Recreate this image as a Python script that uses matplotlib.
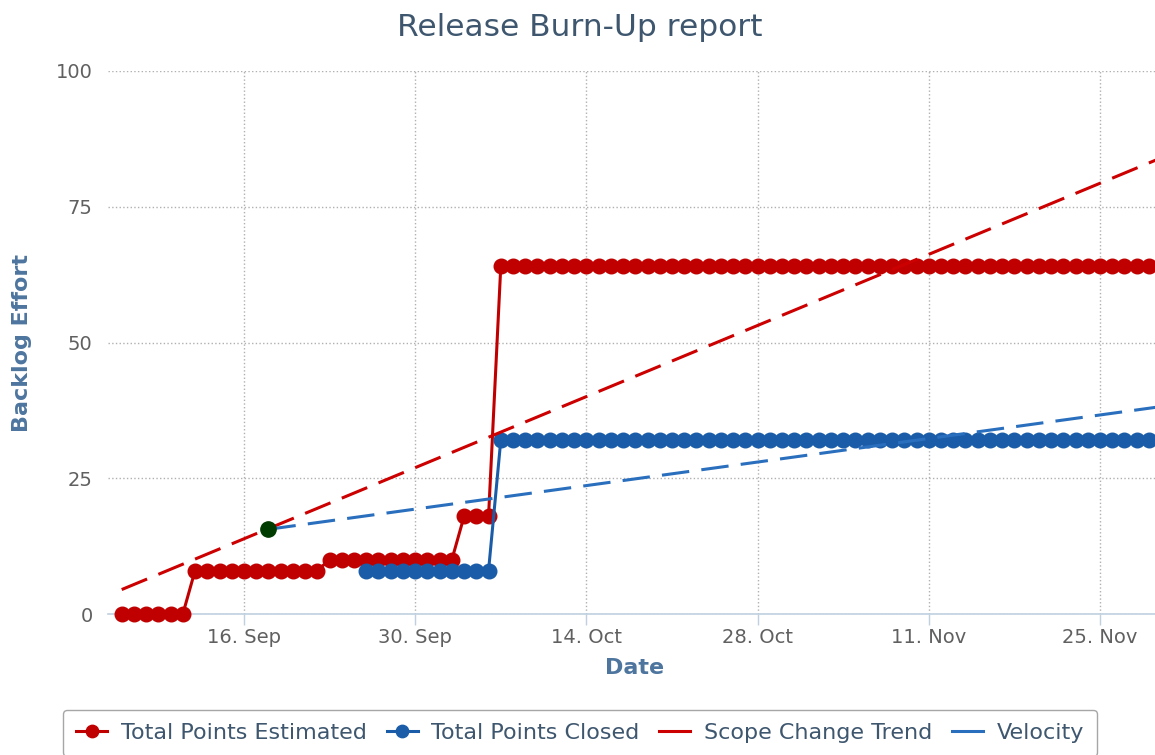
import numpy as np
import pandas as pd
import matplotlib
matplotlib.use("Agg")
import matplotlib.pyplot as plt
import matplotlib.dates as mdates

# Daily burn-up data: each series is a run of step levels
est_start = "2013-09-06"
est_levels = [0, 8, 10, 18, 64]
est_days = [6, 11, 11, 3, 54]

closed_start = "2013-09-26"
closed_levels = [8, 32]
closed_days = [11, 54]

# Trend lines (start and end points)
scope_dates = ["2013-09-06", "2013-11-30"]
scope_values = [4.5, 84.0]
velocity_dates = ["2013-09-18", "2013-11-30"]
velocity_values = [15.6, 38.2]

tick_dates = ["2013-09-16", "2013-09-30", "2013-10-14",
              "2013-10-28", "2013-11-11", "2013-11-25"]
y_ticks = [0, 25, 50, 75, 100]

est_values = np.repeat(est_levels, est_days)
est_dates = pd.date_range(est_start, periods=len(est_values), freq="D")
closed_values = np.repeat(closed_levels, closed_days)
closed_dates = pd.date_range(closed_start, periods=len(closed_values), freq="D")

RED = "#c00000"
BLUE = "#1a5ca8"
TITLE_COL = "#3e576f"
AXIS_TITLE_COL = "#4d759e"
LABEL_COL = "#606060"

fig = plt.figure(figsize=(11.55, 7.55), dpi=100)
ax = fig.add_axes([108 / 1155, 1 - 614 / 755, 1 - 108 / 1155, (614 - 71) / 755])

ax.plot(est_dates, est_values, color=RED, lw=2.2, marker="o", ms=10.5,
        label="Total Points Estimated", clip_on=False, zorder=3)
ax.plot(closed_dates, closed_values, color=BLUE, lw=2.2, marker="o", ms=10.5,
        label="Total Points Closed", clip_on=False, zorder=4)
ax.plot(pd.to_datetime(scope_dates), scope_values, color="#cc0000", lw=2.2,
        linestyle=(0, (9, 4)), label="Scope Change Trend", clip_on=False, zorder=5)
ax.plot(pd.to_datetime(velocity_dates), velocity_values, color="#2a6fbe", lw=2.2,
        linestyle=(0, (9, 4)), label="Velocity", clip_on=False, zorder=6)
# start point of the velocity trend
ax.plot(pd.to_datetime(velocity_dates[:1]), velocity_values[:1], "o",
        color="#003b00", ms=11, zorder=7)

left = pd.Timestamp("2013-09-16") - pd.Timedelta(days=11.12)
right = pd.Timestamp("2013-09-16") + pd.Timedelta(days=74.5)
ax.set_xlim(left, right)
ax.set_ylim(0, 100)

ax.set_xticks(pd.to_datetime(tick_dates))
ax.xaxis.set_major_formatter(mdates.DateFormatter("%d. %b"))
ax.set_yticks(y_ticks)

for s in ["left", "right", "top"]:
    ax.spines[s].set_visible(False)
ax.spines["bottom"].set_color("#c0d0e0")
ax.spines["bottom"].set_linewidth(1.2)

ax.tick_params(axis="x", length=8, width=1, color="#c0d0e0", pad=2,
               labelsize=14, labelcolor=LABEL_COL)
ax.tick_params(axis="y", length=0, pad=11, labelsize=14, labelcolor=LABEL_COL)
ax.grid(True, linestyle=":", color="#b0b0b0", lw=1)
ax.set_axisbelow(True)

fig.text(580 / 1155, 1 - 28 / 755, "Release Burn-Up report", ha="center",
         va="center", fontsize=22.5, color=TITLE_COL)
fig.text(635 / 1155, 1 - 668 / 755, "Date", ha="center", va="center",
         fontsize=16, fontweight="bold", color=AXIS_TITLE_COL)
fig.text(22 / 1155, 1 - 343 / 755, "Backlog Effort", ha="center", va="center",
         rotation=90, fontsize=16, fontweight="bold", color=AXIS_TITLE_COL)

leg = fig.legend(loc="center", bbox_to_anchor=(580 / 1155, 1 - 733 / 755), ncol=4,
                 fontsize=16, frameon=True, fancybox=True, handlelength=1.4,
                 handletextpad=0.6, columnspacing=0.9, borderpad=0.6,
                 markerscale=0.85)
leg.get_frame().set_edgecolor("#909090")
leg.get_frame().set_linewidth(1)
for t in leg.get_texts():
    t.set_color(TITLE_COL)
# trend handles drawn as short solid strokes
for h in leg.legend_handles[2:]:
    h.set_linestyle("-")

fig.savefig("out.png", dpi=100)
